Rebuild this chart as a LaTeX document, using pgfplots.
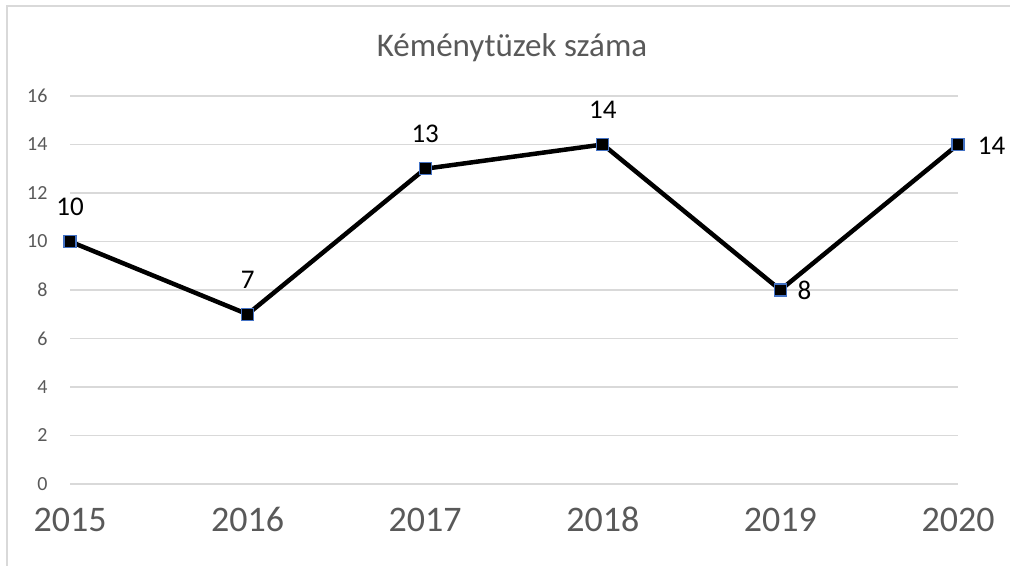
\documentclass[border=0pt]{standalone}
\usepackage{pgfplots}
\pgfplotsset{compat=1.18}
\usepackage{fontspec}
\setmainfont{Carlito}
\definecolor{txtgray}{HTML}{595959}
\definecolor{gridgray}{HTML}{D9D9D9}
\definecolor{mkblue}{HTML}{4472C4}
\begin{document}
\begin{tikzpicture}[x=1bp,y=1bp]
\path[use as bounding box] (0,0) rectangle (1010,566);
\draw[gridgray,line width=1.5bp] (7,-10) -- (7,560) -- (1020,560);
\node[text=txtgray,font=\fontsize{33bp}{35bp}\selectfont] at (512,518) {Kéménytüzek száma};
\begin{axis}[
  at={(70bp,82bp)}, anchor=south west,
  scale only axis, width=888bp, height=388bp,
  xmin=2015, xmax=2020, ymin=0, ymax=16,
  xtick={2015,2016,2017,2018,2019,2020},
  xticklabels={},
  ytick={0,2,4,6,8,10,12,14,16},
  yticklabel style={font=\fontsize{20bp}{22bp}\selectfont, text=txtgray},
  yticklabel shift=19bp,
  /pgf/number format/assume math mode=true,
  axis line style={draw=none},
  major tick length=0pt,
  ymajorgrids, grid style={gridgray, line width=1.2bp},
  clip=false,
  nodes near coords,
  every node near coord/.append style={font=\fontsize{27bp}{29bp}\selectfont, text=black, anchor=south, yshift=22bp},
  coordinate style/.condition={rawx>2018.5}{xshift=24bp, yshift=-36bp},
  coordinate style/.condition={rawx>2019.5}{xshift=9.5bp},
]
\addplot[black, line width=4.5bp, mark=square*, mark size=6bp,
  mark options={fill=black, draw=mkblue, line width=1.2bp}]
  coordinates {(2015,10) (2016,7) (2017,13) (2018,14) (2019,8) (2020,14)};
\pgfplotsinvokeforeach{2015,2016,2017,2018,2019,2020}{
  \node[anchor=north, font=\fontsize{36bp}{38bp}\selectfont, text=txtgray,
        text height=23bp, text depth=0pt, inner sep=0pt]
        at ([yshift=-24bp]axis cs:#1,0) {#1};
}
\end{axis}
\end{tikzpicture}
\end{document}
